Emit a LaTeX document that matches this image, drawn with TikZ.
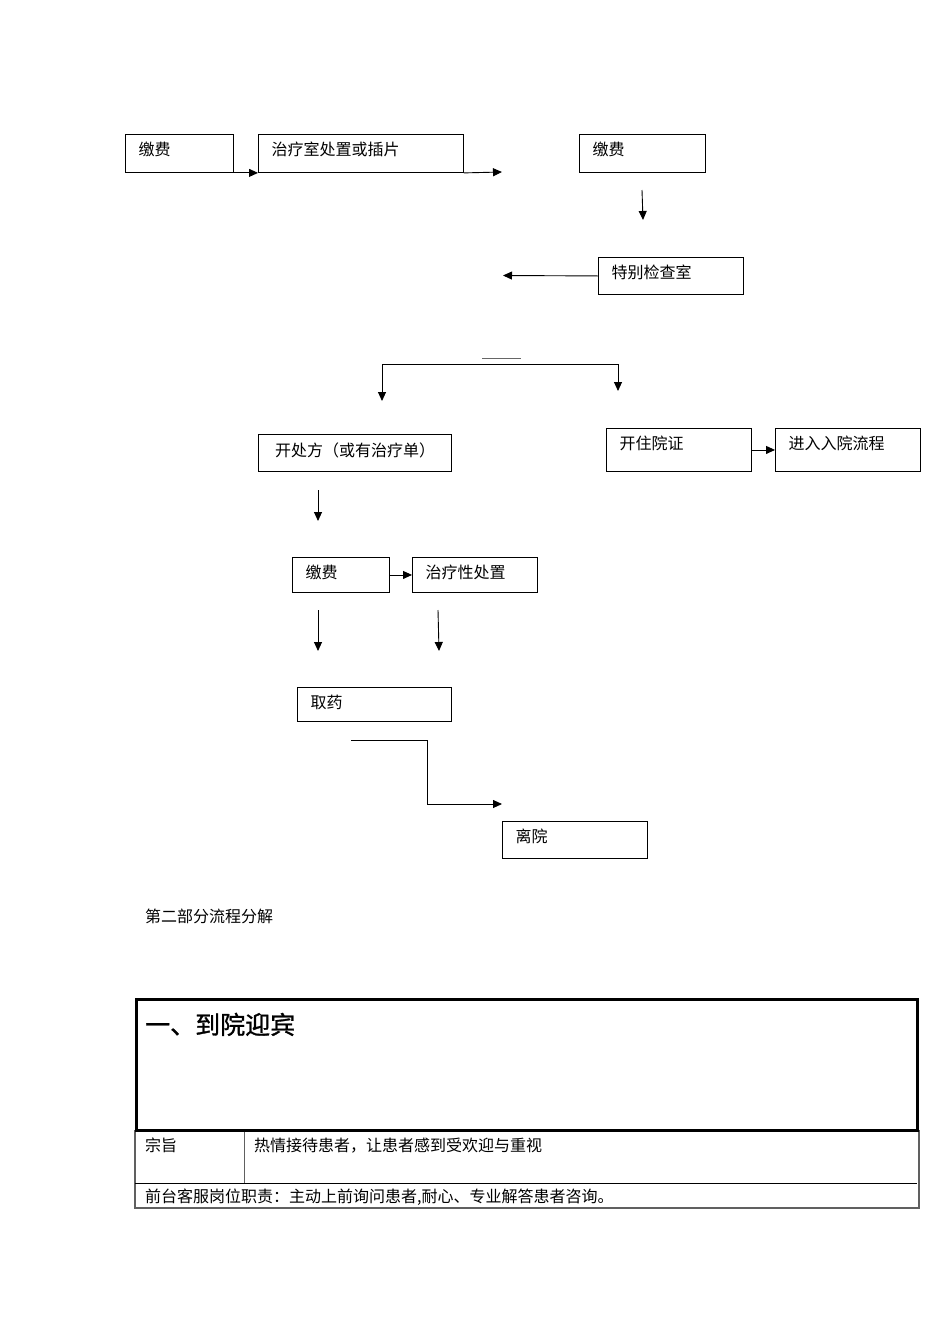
\documentclass[tikz,border=0pt]{standalone}
\usepackage{fontspec}
\setmainfont{Noto Sans CJK SC}
\newfontfamily\headfont[FakeBold=1.2]{Noto Sans CJK SC}
\usepackage{tikz}
\usetikzlibrary{arrows.meta, positioning, calc}

\tikzset{
  box/.style={draw, line width=0.9pt, anchor=north west, inner sep=0pt},
  tag/.style={anchor=base west, inner sep=0pt, font=\fontsize{16}{18}\selectfont, xshift=13.5pt, yshift=-21.5pt},
  txt/.style={anchor=base west, inner sep=0pt, font=\fontsize{16}{18}\selectfont},
  arr/.style={line width=0.9pt, -{Triangle[length=9pt,width=8pt]}},
}

\begin{document}
\begin{tikzpicture}[x=1pt, y=-1pt]

% Page frame
\useasboundingbox (0,0) rectangle (950,1344);

% Top row
\node[box, minimum width=108pt, minimum height=38pt, label={[tag]north west:缴费}] (pay1) at (125,134) {};
\node[box, minimum width=205pt, minimum height=38pt, label={[tag]north west:治疗室处置或插片}] (treat1) at (258,134) {};
\node[box, minimum width=126pt, minimum height=38pt, label={[tag]north west:缴费}] (pay2) at (579,134) {};
\node[box, minimum width=145pt, minimum height=37pt, label={[tag]north west:特别检查室}] (spec) at (598,257) {};

\coordinate (treat1end) at (502,172);
\coordinate (pay2down) at (642,190);
\coordinate (pay2tip) at (643,220);
\coordinate (specend) at (503,275.5);

\draw[arr] (pay1.south east) -- (treat1.south west);
\draw[arr] (treat1.south east) -- (treat1end);
\draw[arr] (pay2down) -- (pay2tip);
\draw[arr] (spec.west) -- (specend);

% Branch
\coordinate (dash1) at (482,358);
\coordinate (dash2) at (521,358);
\coordinate (forkl) at (382,364);
\coordinate (forkr) at (618,364);
\coordinate (forkltip) at (382,401);
\coordinate (forkrtip) at (618,391);

\draw[gray!80!black, line width=1pt] (dash1) -- (dash2);
\draw[arr] (forkl) -- (forkltip);
\draw[arr] (forkr) -- (forkrtip);
\draw[line width=0.9pt] (forkl) -- (forkr);

% Second row
\node[box, minimum width=193pt, minimum height=37pt, label={[tag, xshift=3.5pt, yshift=-0.5pt]north west:开处方（或有治疗单）}] (rx) at (258,434) {};
\node[box, minimum width=145pt, minimum height=43pt, label={[tag]north west:开住院证}] (zy) at (606,428) {};
\node[box, minimum width=145pt, minimum height=43pt, label={[tag]north west:进入入院流程}] (flow) at (775,428) {};

\draw[arr] (zy.east) -- (flow.west);

\coordinate (rxdown) at (318,490);
\coordinate (rxtip) at (318,521);
\draw[arr] (rxdown) -- (rxtip);

% Third row
\node[box, minimum width=97pt, minimum height=35pt, label={[tag]north west:缴费}] (pay3) at (292,557) {};
\node[box, minimum width=125pt, minimum height=35pt, label={[tag]north west:治疗性处置}] (treat2) at (412,557) {};

\draw[arr] (pay3.east) -- (treat2.west);

\coordinate (pay3down) at (318,610);
\coordinate (pay3tip) at (318,651);
\coordinate (treat2down) at (438,610);
\coordinate (treat2tip) at (439,651);
\draw[arr] (pay3down) -- (pay3tip);
\draw[arr] (treat2down) -- (treat2tip);

% Drug and exit
\node[box, minimum width=154pt, minimum height=34pt, label={[tag]north west:取药}] (drug) at (297,687) {};
\node[box, minimum width=145pt, minimum height=37pt, label={[tag]north west:离院}] (leave) at (502,821) {};

\coordinate (drugout) at (351,740);
\coordinate (leavein) at (502,804);
\draw[arr] (drugout) -- ++(76,0) |- (leavein);

% Part title
\node[txt] (part) at (145,922) {第二部分流程分解};

% Table
\draw[gray!75!black, line width=1.2pt] (135,1131) rectangle (919,1208);
\draw[gray!75!black, line width=1pt] (244,1131) -- (244,1183);
\draw[line width=0.9pt] (135,1183) -- (917,1183);
\draw[line width=3.5pt] (136.5,999.5) rectangle (917.5,1130.5);

\node[anchor=base west, inner sep=0pt, font=\headfont\fontsize{25}{28}\selectfont] (title) at (145,1034) {一、到院迎宾};
\node[txt] (aim) at (145,1151) {宗旨};
\node[txt] (aimtext) at (254,1151) {热情接待患者，让患者感到受欢迎与重视};
\node[txt] (duty) at (145,1202) {前台客服岗位职责：主动上前询问患者,耐心、专业解答患者咨询。};

\end{tikzpicture}
\end{document}
